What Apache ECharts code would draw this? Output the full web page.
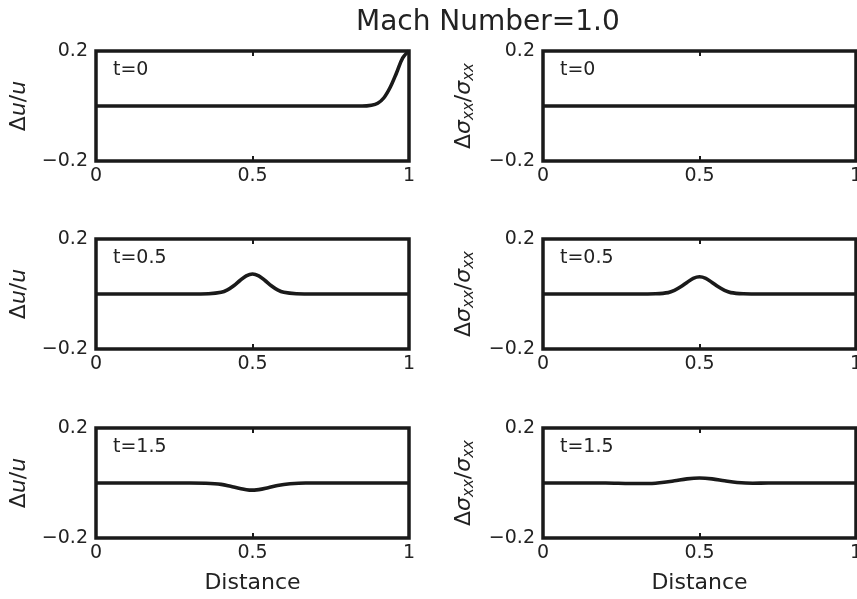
<!DOCTYPE html>
<html>
<head>
<meta charset="utf-8">
<script src="https://cdn.jsdelivr.net/npm/echarts@6/dist/echarts.min.js"></script>
<style>html,body{margin:0;padding:0;background:#fff;}#c{width:857px;height:599px;}</style>
</head>
<body>
<div id="c"></div>
<script>
// ---- data ----
const xTicks = [0, 0.5, 1];
const yTicks = [-0.2, 0.2];
const timeLabels = ['t=0', 't=0.5', 't=1.5'];

// t = 0
const xU0 = [0, 0.5, 0.85, 0.88, 0.9, 0.92, 0.94, 0.96, 0.98, 1.0];
const yU0 = [0, 0, 0, 0.003, 0.01, 0.03, 0.068, 0.12, 0.175, 0.2];
const xS0 = [0, 0.5, 1];
const yS0 = [0, 0, 0];

// t = 0.5
const xU1 = [0, 0.3, 0.36, 0.4, 0.42, 0.44, 0.46, 0.48, 0.5, 0.52, 0.54, 0.56, 0.58, 0.6, 0.64, 0.7, 1];
const yU1 = [0, 0, 0.001, 0.006, 0.015, 0.03, 0.049, 0.066, 0.073, 0.066, 0.049, 0.03, 0.015, 0.006, 0.001, 0, 0];
const xS1 = [0, 0.3, 0.36, 0.4, 0.42, 0.44, 0.46, 0.48, 0.5, 0.52, 0.54, 0.56, 0.58, 0.6, 0.64, 0.7, 1];
const yS1 = [0, 0, 0.001, 0.005, 0.013, 0.026, 0.042, 0.057, 0.063, 0.057, 0.042, 0.026, 0.013, 0.005, 0.001, 0, 0];

// t = 1.5
const xU2 = [0, 0.3, 0.35, 0.4, 0.43, 0.46, 0.49, 0.52, 0.55, 0.58, 0.62, 0.67, 0.75, 1];
const yU2 = [0, 0, -0.001, -0.005, -0.012, -0.02, -0.026, -0.024, -0.017, -0.009, -0.003, 0, 0, 0];
const xS2 = [0, 0.2, 0.28, 0.33, 0.38, 0.42, 0.46, 0.5, 0.54, 0.58, 0.62, 0.67, 0.72, 1];
const yS2 = [0, 0, -0.002, -0.002, 0.002, 0.008, 0.015, 0.018, 0.015, 0.008, 0.002, -0.001, 0, 0];

const uSeries = [[xU0, yU0], [xU1, yU1], [xU2, yU2]];
const sSeries = [[xS0, yS0], [xS1, yS1], [xS2, yS2]];

// ---- layout ----
const FONT = 'DejaVu Sans';
const TXT = '#222222';
const LINE = '#1a1a1a';
const colLeft = [96, 543];
const rowTop = [51, 239, 428];
const W = 313, H = 110;

const grids = [], xAxes = [], yAxes = [], series = [], titles = [];

titles.push({
  text: 'Mach Number=1.0', left: 351, top: 4,
  textStyle: { fontFamily: FONT, fontSize: 28, fontWeight: 'normal', color: TXT }
});

const pair = (xs, ys) => xs.map((x, i) => [x, ys[i]]);

let gi = 0;
for (let r = 0; r < 3; r++) {
  for (let c = 0; c < 2; c++) {
    grids.push({
      left: colLeft[c], top: rowTop[r], width: W, height: H,
      show: true, borderColor: LINE, borderWidth: 3.5, backgroundColor: 'transparent',
      containLabel: false, outerBoundsMode: 'none'
    });
    // bottom x axis
    xAxes.push({
      type: 'value', gridIndex: gi, min: 0, max: 1, interval: 0.5, position: 'bottom',
      axisLine: { show: false, onZero: false },
      axisTick: { show: true, inside: true, length: 5, lineStyle: { color: LINE, width: 2 } },
      splitLine: { show: false },
      axisLabel: { fontFamily: FONT, fontSize: 19, color: TXT, margin: 6,
        formatter: v => (xTicks.indexOf(v) >= 0 ? String(v) : '') },
      name: r === 2 ? 'Distance' : '',
      nameLocation: 'middle', nameGap: 34,
      nameTextStyle: { fontFamily: FONT, fontSize: 22, color: TXT }
    });
    // top x axis (ticks only)
    xAxes.push({
      type: 'value', gridIndex: gi, min: 0, max: 1, interval: 0.5, position: 'top',
      axisLine: { show: false, onZero: false },
      axisTick: { show: true, inside: true, length: 5, lineStyle: { color: LINE, width: 2 } },
      splitLine: { show: false },
      axisLabel: { show: false }
    });
    const nameU = '{n|Δ}{i|u}{n|/}{i|u}';
    const nameS = '{n|Δ}{i|σ}{s|xx}{n|/}{i|σ}{s|xx}';
    yAxes.push({
      type: 'value', gridIndex: gi, min: yTicks[0], max: yTicks[1], interval: 0.4,
      axisLine: { show: false, onZero: false },
      axisTick: { show: false },
      splitLine: { show: false },
      axisLabel: { fontFamily: FONT, fontSize: 19, color: TXT, margin: 8,
        formatter: v => (v > 0 ? '0.2' : (v < 0 ? '\u22120.2' : '')) },
      name: c === 0 ? nameU : nameS,
      nameLocation: 'middle', nameRotate: 90, nameGap: 66,
      nameTextStyle: {
        fontFamily: FONT, fontSize: 22, color: TXT,
        rich: {
          n: { fontFamily: FONT, fontSize: 22, color: TXT },
          i: { fontFamily: FONT, fontSize: 22, color: TXT, fontStyle: 'italic' },
          s: { fontFamily: FONT, fontSize: 15, color: TXT, fontStyle: 'italic', verticalAlign: 'bottom', padding: [11, 0, 0, 0] }
        }
      }
    });
    const src = c === 0 ? uSeries[r] : sSeries[r];
    series.push({
      type: 'line', xAxisIndex: gi * 2, yAxisIndex: gi,
      data: pair(src[0], src[1]),
      smooth: 0.35, showSymbol: false, symbol: 'none',
      lineStyle: { color: LINE, width: 3.6 },
      silent: true, animation: false
    });
    titles.push({
      text: timeLabels[r], left: colLeft[c] + 12, top: rowTop[r] + 5,
      textStyle: { fontFamily: FONT, fontSize: 19, fontWeight: 'normal', color: TXT }
    });
    gi++;
  }
}

const chart = echarts.init(document.getElementById('c'), null, { renderer: 'canvas' });
chart.setOption({
  backgroundColor: '#fff',
  animation: false,
  title: titles,
  grid: grids,
  xAxis: xAxes,
  yAxis: yAxes,
  series: series
});
</script>
</body>
</html>
